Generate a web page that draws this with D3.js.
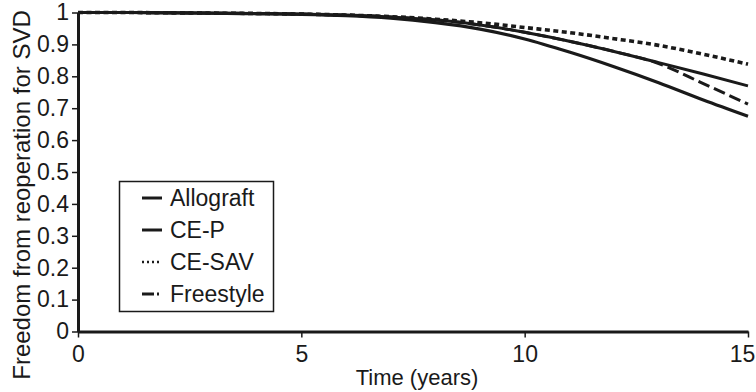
<!DOCTYPE html>
<html>
<head>
<meta charset="utf-8">
<script src="https://cdn.jsdelivr.net/npm/d3@7"></script>
<style>
  html, body { margin: 0; padding: 0; background: #fff; }
  svg { display: block; font-family: "Liberation Sans", Arial, sans-serif; }
</style>
</head>
<body>
<svg id="chart" width="756" height="392"></svg>
<script>
// Follow-up years
const years = [0, 1, 2, 3, 4, 5, 6, 7, 8, 9, 10, 11, 12, 13, 14, 15];

// Freedom from reoperation for structural valve deterioration, per valve type
const allograft = [1, 1, 0.999, 0.998, 0.996, 0.994, 0.990, 0.982, 0.968, 0.948, 0.917, 0.876, 0.830, 0.780, 0.726, 0.675];
const ceP       = [1, 1, 0.999, 0.998, 0.997, 0.995, 0.992, 0.986, 0.977, 0.961, 0.938, 0.910, 0.878, 0.843, 0.807, 0.770];
const ceSAV     = [1, 1, 0.999, 0.998, 0.997, 0.995, 0.992, 0.987, 0.979, 0.968, 0.953, 0.937, 0.918, 0.897, 0.869, 0.838];
const freestyle = [1, 1, 0.999, 0.998, 0.997, 0.995, 0.992, 0.986, 0.977, 0.961, 0.938, 0.910, 0.878, 0.840, 0.777, 0.713];

const seriesNames = ["Allograft", "CE-P", "CE-SAV", "Freestyle"];
const xTicks = [0, 5, 10, 15];
const yTicks = [0, 0.1, 0.2, 0.3, 0.4, 0.5, 0.6, 0.7, 0.8, 0.9, 1];

const styles = {
  "Allograft": { width: 3.2, dash: null, legendDash: null },
  "CE-P":      { width: 3.0, dash: null, legendDash: null },
  "CE-SAV":    { width: 3.6, dash: "5,3.5", legendDash: "2,3" },
  "Freestyle": { width: 3.0, dash: "12,5", legendDash: "12,3,2,3" }
};
const seriesValues = {
  "Allograft": allograft, "CE-P": ceP, "CE-SAV": ceSAV, "Freestyle": freestyle
};

const svg = d3.select("#chart");
const ink = "#1a1a1a";

const x = d3.scaleLinear().domain([0, 15]).range([78, 748]);
const y = d3.scaleLinear().domain([0, 1]).range([331.5, 12.5]);

// Axes
const xAxis = svg.append("g")
  .attr("transform", `translate(0,${y(0)})`)
  .call(d3.axisBottom(x).tickValues(xTicks).tickFormat(d3.format("d")).tickSize(6).tickSizeOuter(0));
const yAxis = svg.append("g")
  .attr("transform", `translate(${x(0)},0)`)
  .call(d3.axisLeft(y).tickValues(yTicks).tickFormat(d => d === 0 || d === 1 ? d3.format("d")(d) : d3.format(".1f")(d)).tickSize(6).tickSizeOuter(0));

[xAxis, yAxis].forEach(g => {
  g.select(".domain").attr("stroke", ink).attr("stroke-width", 3);
  g.selectAll(".tick line").attr("stroke", ink).attr("stroke-width", 1.5);
  g.selectAll(".tick text").attr("fill", ink).style("font-size", "23px")
    .style("font-family", "'Liberation Sans', Arial, sans-serif");
});
xAxis.selectAll(".tick text").attr("dy", "0.92em");
xAxis.selectAll(".tick text").filter(d => d === 15).attr("dx", "-6");
yAxis.selectAll(".tick text").attr("x", -9);

// Axis titles
svg.append("text")
  .attr("x", x(7.5) + 4).attr("y", 385)
  .attr("text-anchor", "middle")
  .attr("fill", ink).style("font-size", "22px")
  .text("Time (years)");
svg.append("text")
  .attr("transform", `translate(30,195) rotate(-90)`)
  .attr("text-anchor", "middle")
  .attr("fill", ink).style("font-size", "24px")
  .text("Freedom from reoperation for SVD");

// Survival curves
const line = d3.line()
  .x((d, i) => x(years[i]))
  .y(d => y(d))
  .curve(d3.curveMonotoneX);

["Allograft", "CE-P", "Freestyle", "CE-SAV"].forEach(name => {
  const s = styles[name];
  svg.append("path")
    .datum(seriesValues[name])
    .attr("d", line)
    .attr("fill", "none")
    .attr("stroke", ink)
    .attr("stroke-width", s.width)
    .attr("stroke-dasharray", s.dash)
    .attr("stroke-linecap", "butt");
});

// Legend
const legend = svg.append("g");
legend.append("rect")
  .attr("x", 119.5).attr("y", 181.5).attr("width", 154).attr("height", 130)
  .attr("fill", "#fff").attr("stroke", ink).attr("stroke-width", 1.5);

seriesNames.forEach((name, i) => {
  const cy = 198 + i * 32;
  const s = styles[name];
  legend.append("line")
    .attr("x1", 142).attr("x2", name === "Freestyle" ? 161 : 162).attr("y1", cy).attr("y2", cy)
    .attr("stroke", ink).attr("stroke-width", name === "CE-SAV" ? 2.4 : 3)
    .attr("stroke-dasharray", s.legendDash);
  legend.append("text")
    .attr("x", 170).attr("y", cy + 8)
    .attr("fill", ink).style("font-size", "23px")
    .text(name);
});
</script>
</body>
</html>
